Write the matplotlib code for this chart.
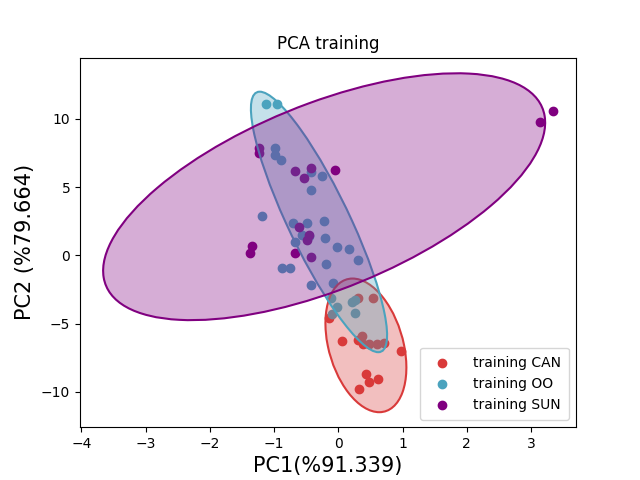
import numpy as np
import matplotlib
matplotlib.use("Agg")
import matplotlib.pyplot as plt
from matplotlib.patches import Ellipse

can_x = [0.54,0.30,-0.14,0.06,0.31,0.37,0.39,0.48,0.60,0.71,0.98,0.43,0.48,0.62,0.33]
can_y = [-3.1,-3.1,-4.6,-6.25,-6.2,-5.9,-6.5,-6.5,-6.5,-6.4,-7.0,-8.7,-9.3,-9.1,-9.8]
oo_x = [-1.13,-0.96,-0.98,-0.98,-0.89,-1.18,-0.71,-0.48,-0.23,-0.68,-0.56,-0.45,-0.20,-0.02,0.16,
        -0.19,0.31,-0.87,-0.75,-0.08,-0.43,-0.11,-0.02,-0.09,0.22,0.26,0.26,-0.43,-0.25,-0.42]
oo_y = [11.1,11.1,7.9,7.35,7.0,2.9,2.35,2.35,2.5,1.0,1.5,1.4,1.25,0.6,0.45,
        -0.65,-0.35,-0.9,-0.9,-2.0,-2.2,-3.1,-3.8,-4.3,-3.45,-3.3,-4.25,4.8,5.8,6.1]
sun_x = [3.34,3.14,-1.23,-1.23,-0.67,-0.43,-0.05,-0.54,-0.61,-0.45,-0.48,-1.35,-1.37,-0.68,-0.43]
sun_y = [10.6,9.8,7.9,7.5,6.2,6.4,6.25,5.7,2.1,1.5,1.1,0.7,0.15,0.2,-0.15]

# ellipse: center x, center y, half-extent x, half-extent y, correlation
ell_can = (0.43, -6.6, 0.63, 4.9, -0.33)
ell_oo = (-0.30, 2.45, 1.06, 9.55, -0.87)
ell_sun = (-0.22, 4.3, 3.44, 9.05, 0.6)

c_can, c_oo, c_sun = '#d93a3a', '#4ba3be', '#800080'

fig, ax = plt.subplots(figsize=(6.4, 4.8), dpi=100)
ax.scatter(can_x, can_y, color=c_can, label='training CAN')
ax.scatter(oo_x, oo_y, color=c_oo, label='training OO')
ax.scatter(sun_x, sun_y, color=c_sun, label='training SUN')

def draw(e, col):
    cx, cy, sx, sy, r = e
    M = np.array([[sx*sx, r*sx*sy], [r*sx*sy, sy*sy]])
    w, v = np.linalg.eigh(M)
    ang = np.degrees(np.arctan2(v[1, 1], v[0, 1]))
    ax.add_patch(Ellipse((cx, cy), 2*np.sqrt(w[1]), 2*np.sqrt(w[0]), angle=ang,
                         facecolor=col, alpha=0.32, edgecolor='none'))
    ax.add_patch(Ellipse((cx, cy), 2*np.sqrt(w[1]), 2*np.sqrt(w[0]), angle=ang,
                         facecolor='none', edgecolor=col, lw=1.5))

draw(ell_can, c_can)
draw(ell_oo, c_oo)
draw(ell_sun, c_sun)

ax.set_xlim(-4.02, 3.7)
ax.set_ylim(-12.6, 14.5)
ax.set_title('PCA training')
ax.set_xlabel('PC1(%91.339)', fontsize=15)
ax.set_ylabel('PC2 (%79.664)', fontsize=15)
ax.legend(loc='lower right', fontsize=10, borderpad=0.6, handletextpad=1.2)
fig.savefig('out.png')
